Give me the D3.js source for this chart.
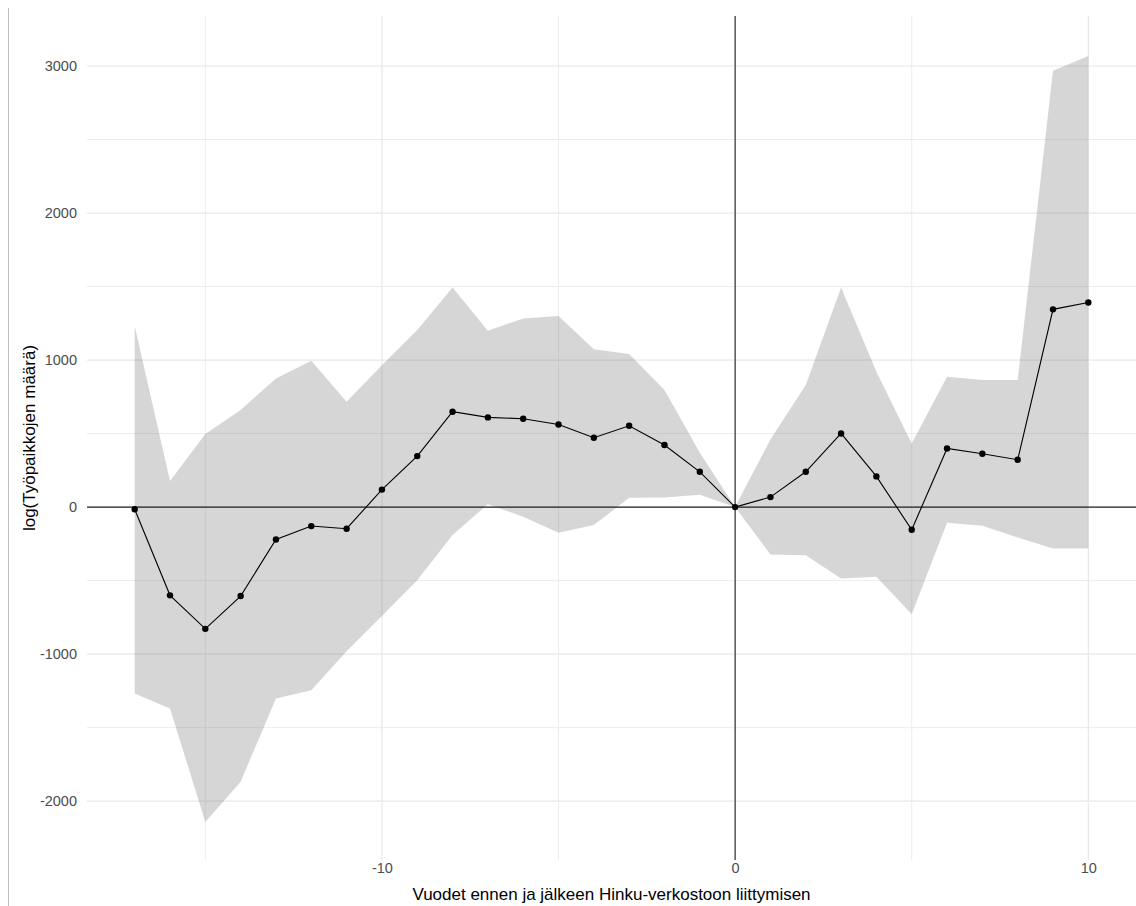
<!DOCTYPE html>
<html>
<head>
<meta charset="utf-8">
<script src="https://cdn.jsdelivr.net/npm/d3@7"></script>
<style>
    body { margin: 0; background: #fff; }
    svg { display: block; font-family: "Liberation Sans", Arial, sans-serif; }
</style>
</head>
<body>
<div id="chart"></div>
<script>
const years = [-17, -16, -15, -14, -13, -12, -11, -10, -9, -8, -7, -6, -5, -4, -3, -2, -1, 0, 1, 2, 3, 4, 5, 6, 7, 8, 9, 10];
const estimate = [-15, -600, -828, -605, -220, -129, -147, 119, 347, 649, 610, 601, 562, 472, 553, 422, 240, 0, 68, 240, 501, 209, -154, 399, 363, 322, 1345, 1392];
const upper = [1231, 177, 497, 660, 875, 995, 716, 965, 1204, 1494, 1199, 1283, 1299, 1073, 1041, 796, 370, 0, 460, 830, 1494, 920, 433, 887, 864, 864, 2968, 3068];
const lower = [-1268, -1370, -2141, -1868, -1302, -1245, -980, -740, -497, -190, 20, -66, -175, -122, 63, 66, 84, 0, -322, -327, -485, -474, -728, -107, -127, -206, -281, -281];

const xMajor = [-10, 0, 10];
const xMinor = [-15, -5, 5];
const yMajor = [-2000, -1000, 0, 1000, 2000, 3000];
const yMinor = [-1500, -500, 500, 1500, 2500];

const xTitle = 'Vuodet ennen ja jälkeen Hinku-verkostoon liittymisen';
const yTitle = 'log(Työpaikkojen määrä)';

const width = 1136, height = 906;
const panel = { left: 87, right: 1136, top: 16, bottom: 860 };

const data = years.map((y, i) => ({ year: y, est: estimate[i], lo: lower[i], hi: upper[i] }));

// ggplot style 5% expansion on x
const xExt = d3.extent(years);
const xPad = (xExt[1] - xExt[0]) * 0.05;
const x = d3.scaleLinear().domain([xExt[0] - xPad, xExt[1] + xPad]).range([panel.left, panel.right]);
const y = d3.scaleLinear().domain([-2400, 3340]).range([panel.bottom, panel.top]);

// plain labels with ascii minus, like R prints them
const plain = d => String(d);

const svg = d3.select('#chart').append('svg')
    .attr('width', width)
    .attr('height', height);

// left border of the image
svg.append('line')
    .attr('x1', 8.5).attr('x2', 8.5)
    .attr('y1', 8).attr('y2', height)
    .attr('stroke', '#bdbdbd').attr('stroke-width', 1);

const grid = svg.append('g').attr('class', 'grid');

grid.selectAll('.hminor').data(yMinor).enter().append('line')
    .attr('x1', panel.left).attr('x2', panel.right)
    .attr('y1', d => y(d)).attr('y2', d => y(d))
    .attr('stroke', '#ececec').attr('stroke-width', 1);

grid.selectAll('.vminor').data(xMinor).enter().append('line')
    .attr('x1', d => x(d)).attr('x2', d => x(d))
    .attr('y1', panel.top).attr('y2', panel.bottom)
    .attr('stroke', '#ececec').attr('stroke-width', 1);

grid.selectAll('.hmajor').data(yMajor).enter().append('line')
    .attr('x1', panel.left).attr('x2', panel.right)
    .attr('y1', d => y(d)).attr('y2', d => y(d))
    .attr('stroke', '#e8e8e8').attr('stroke-width', 1.2);

grid.selectAll('.vmajor').data(xMajor).enter().append('line')
    .attr('x1', d => x(d)).attr('x2', d => x(d))
    .attr('y1', panel.top).attr('y2', panel.bottom)
    .attr('stroke', '#e8e8e8').attr('stroke-width', 1.2);

// confidence band
const area = d3.area()
    .x(d => x(d.year))
    .y0(d => y(d.lo))
    .y1(d => y(d.hi));

svg.append('path')
    .datum(data)
    .attr('d', area)
    .attr('fill', '#777777')
    .attr('fill-opacity', 0.3);

// reference lines at zero
svg.append('line')
    .attr('x1', panel.left).attr('x2', panel.right)
    .attr('y1', y(0)).attr('y2', y(0))
    .attr('stroke', '#222').attr('stroke-width', 1.1);

svg.append('line')
    .attr('x1', x(0)).attr('x2', x(0))
    .attr('y1', panel.top).attr('y2', panel.bottom)
    .attr('stroke', '#222').attr('stroke-width', 1.1);

const line = d3.line()
    .x(d => x(d.year))
    .y(d => y(d.est));

svg.append('path')
    .datum(data)
    .attr('d', line)
    .attr('fill', 'none')
    .attr('stroke', '#000')
    .attr('stroke-width', 1.1);

svg.selectAll('.pt').data(data).enter().append('circle')
    .attr('class', 'pt')
    .attr('cx', d => x(d.year))
    .attr('cy', d => y(d.est))
    .attr('r', 3.2)
    .attr('fill', '#000');

// axes (no domain line / ticks, theme_minimal look)
const yAxis = svg.append('g')
    .attr('transform', `translate(${panel.left - 10}, 0)`)
    .call(d3.axisLeft(y).tickValues(yMajor).tickFormat(plain).tickSize(0).tickPadding(0));
yAxis.select('.domain').remove();
yAxis.selectAll('text')
    .attr('fill', '#4d4d4d')
    .style('font-size', '14.5px')
    .style('font-family', '"Liberation Sans", Arial, sans-serif');

const xAxis = svg.append('g')
    .attr('transform', `translate(0, ${panel.bottom + 3})`)
    .call(d3.axisBottom(x).tickValues(xMajor).tickFormat(plain).tickSize(0).tickPadding(0));
xAxis.select('.domain').remove();
xAxis.selectAll('text')
    .attr('fill', '#4d4d4d')
    .style('font-size', '14.5px')
    .style('font-family', '"Liberation Sans", Arial, sans-serif');

svg.append('text')
    .attr('x', (panel.left + panel.right) / 2)
    .attr('y', 900)
    .attr('text-anchor', 'middle')
    .attr('fill', '#000')
    .style('font-size', '17px')
    .text(xTitle);

svg.append('text')
    .attr('transform', `translate(35, ${(panel.top + panel.bottom) / 2}) rotate(-90)`)
    .attr('text-anchor', 'middle')
    .attr('fill', '#000')
    .style('font-size', '17px')
    .text(yTitle);
</script>
</body>
</html>
